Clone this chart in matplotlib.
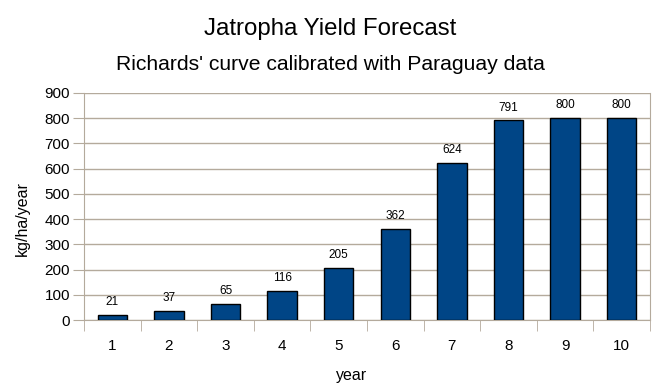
import numpy as np
import matplotlib.pyplot as plt

years = [1, 2, 3, 4, 5, 6, 7, 8, 9, 10]
yield_kg = [21, 37, 65, 116, 205, 362, 624, 791, 800, 800]

plt.rcParams['font.family'] = ['Liberation Sans', 'DejaVu Sans']
grid_col = '#b4aa9c'

fig = plt.figure(figsize=(6.61, 3.86), dpi=100)
ax = fig.add_axes([84 / 661, 1 - 320 / 386, 566 / 661, 227 / 386])

x = np.arange(len(years))
bars = ax.bar(x, yield_kg, width=0.52, color='#004586', edgecolor='black', linewidth=1, zorder=3)

for xi, v in zip(x, yield_kg):
    ax.annotate(str(v), (xi, v), xytext=(0, 5), textcoords='offset points',
                ha='center', va='bottom', fontsize=8.5)

ax.set_xlim(-0.5, len(years) - 0.5)
ax.set_ylim(0, 900)
ax.set_yticks(range(0, 901, 100))
ax.set_xticks(x)
ax.set_xticklabels(years)
ax.set_xticks(np.arange(-0.5, len(years)), minor=True)
ax.tick_params(axis='x', which='major', length=0, pad=14, labelsize=11)
ax.tick_params(axis='x', which='minor', length=8, color=grid_col)
ax.tick_params(axis='y', length=8, color=grid_col, labelsize=11, pad=2)
ax.yaxis.grid(True, color=grid_col, linewidth=1, zorder=0)

for s in ['left', 'bottom', 'right']:
    ax.spines[s].set_color(grid_col)
ax.spines['top'].set_visible(False)

ax.set_xlabel('year', fontsize=11.5)
ax.xaxis.set_label_coords(268 / 566, -0.21)
ax.set_ylabel('kg/ha/year', fontsize=11.5)
ax.yaxis.set_label_coords(-54 / 566, 0.445)

fig.text(0.5, 1 - 29 / 386, 'Jatropha Yield Forecast', ha='center', va='center', fontsize=17.3)
fig.text(0.5, 1 - 65 / 386, "Richards' curve calibrated with Paraguay data", ha='center', va='center', fontsize=15.2)

fig.savefig('out.png', dpi=100)
